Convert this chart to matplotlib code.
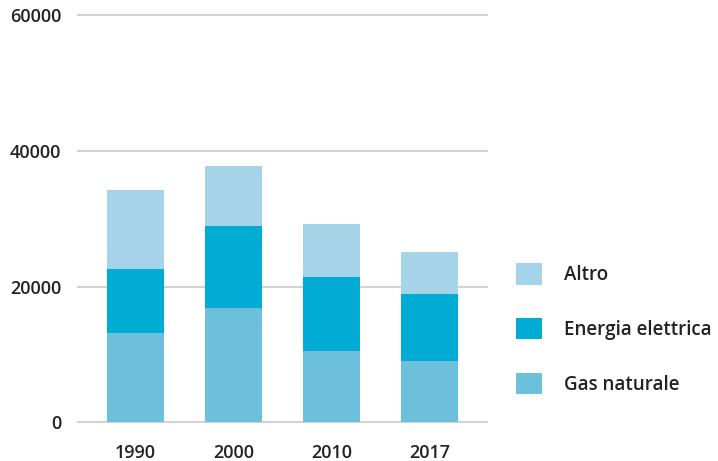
import numpy as np
import matplotlib.pyplot as plt

years = ["1990", "2000", "2010", "2017"]
gas = [13100, 16800, 10500, 9000]
elettrica = [9500, 12100, 10900, 9900]
altro = [11600, 8900, 7800, 6200]

colors = {"gas": "#6CC0DC", "el": "#00ACD3", "altro": "#A5D4E8"}

plt.rcParams["font.family"] = ["Open Sans", "DejaVu Sans"]

fig = plt.figure(figsize=(7.18, 4.61), dpi=100)
ax = fig.add_axes([78 / 718, 1 - 422 / 461, (487 - 78) / 718, (422 - 15.5) / 461])

x = np.arange(len(years))
w = 0.58
b_gas = ax.bar(x, gas, w, color=colors["gas"], label="Gas naturale", zorder=3)
bottom = np.array(gas)
b_el = ax.bar(x, elettrica, w, bottom=bottom, color=colors["el"], label="Energia elettrica", zorder=3)
bottom = bottom + np.array(elettrica)
b_alt = ax.bar(x, altro, w, bottom=bottom, color=colors["altro"], label="Altro", zorder=3)

ax.set_xlim(-0.587, 3.587)
ax.set_ylim(0, 60000)
ax.set_yticks([0, 20000, 40000, 60000])
ax.set_xticks(x)
ax.set_xticklabels(years)
ax.grid(axis="y", color="#d3d3d3", linewidth=1.5, zorder=0)
ax.set_axisbelow(True)
for gl in ax.yaxis.get_gridlines():
    gl.set_clip_on(False)
for s in ax.spines.values():
    s.set_visible(False)
ax.tick_params(axis="both", length=0, labelsize=13, colors="#222222")
ax.tick_params(axis="y", pad=12)
ax.tick_params(axis="x", pad=16)
for lbl in ax.get_xticklabels() + ax.get_yticklabels():
    lbl.set_fontweight(600)

fig.legend(handles=[b_alt, b_el, b_gas], loc="upper left",
           bbox_to_anchor=(499 / 718, 1 - 246 / 461), frameon=False,
           handlelength=1.4, handleheight=1.4,
           handletextpad=1.15, labelspacing=1.75, labelcolor="#222222",
           prop={"weight": 600, "size": 13.5})

fig.savefig("out.png", dpi=100)
